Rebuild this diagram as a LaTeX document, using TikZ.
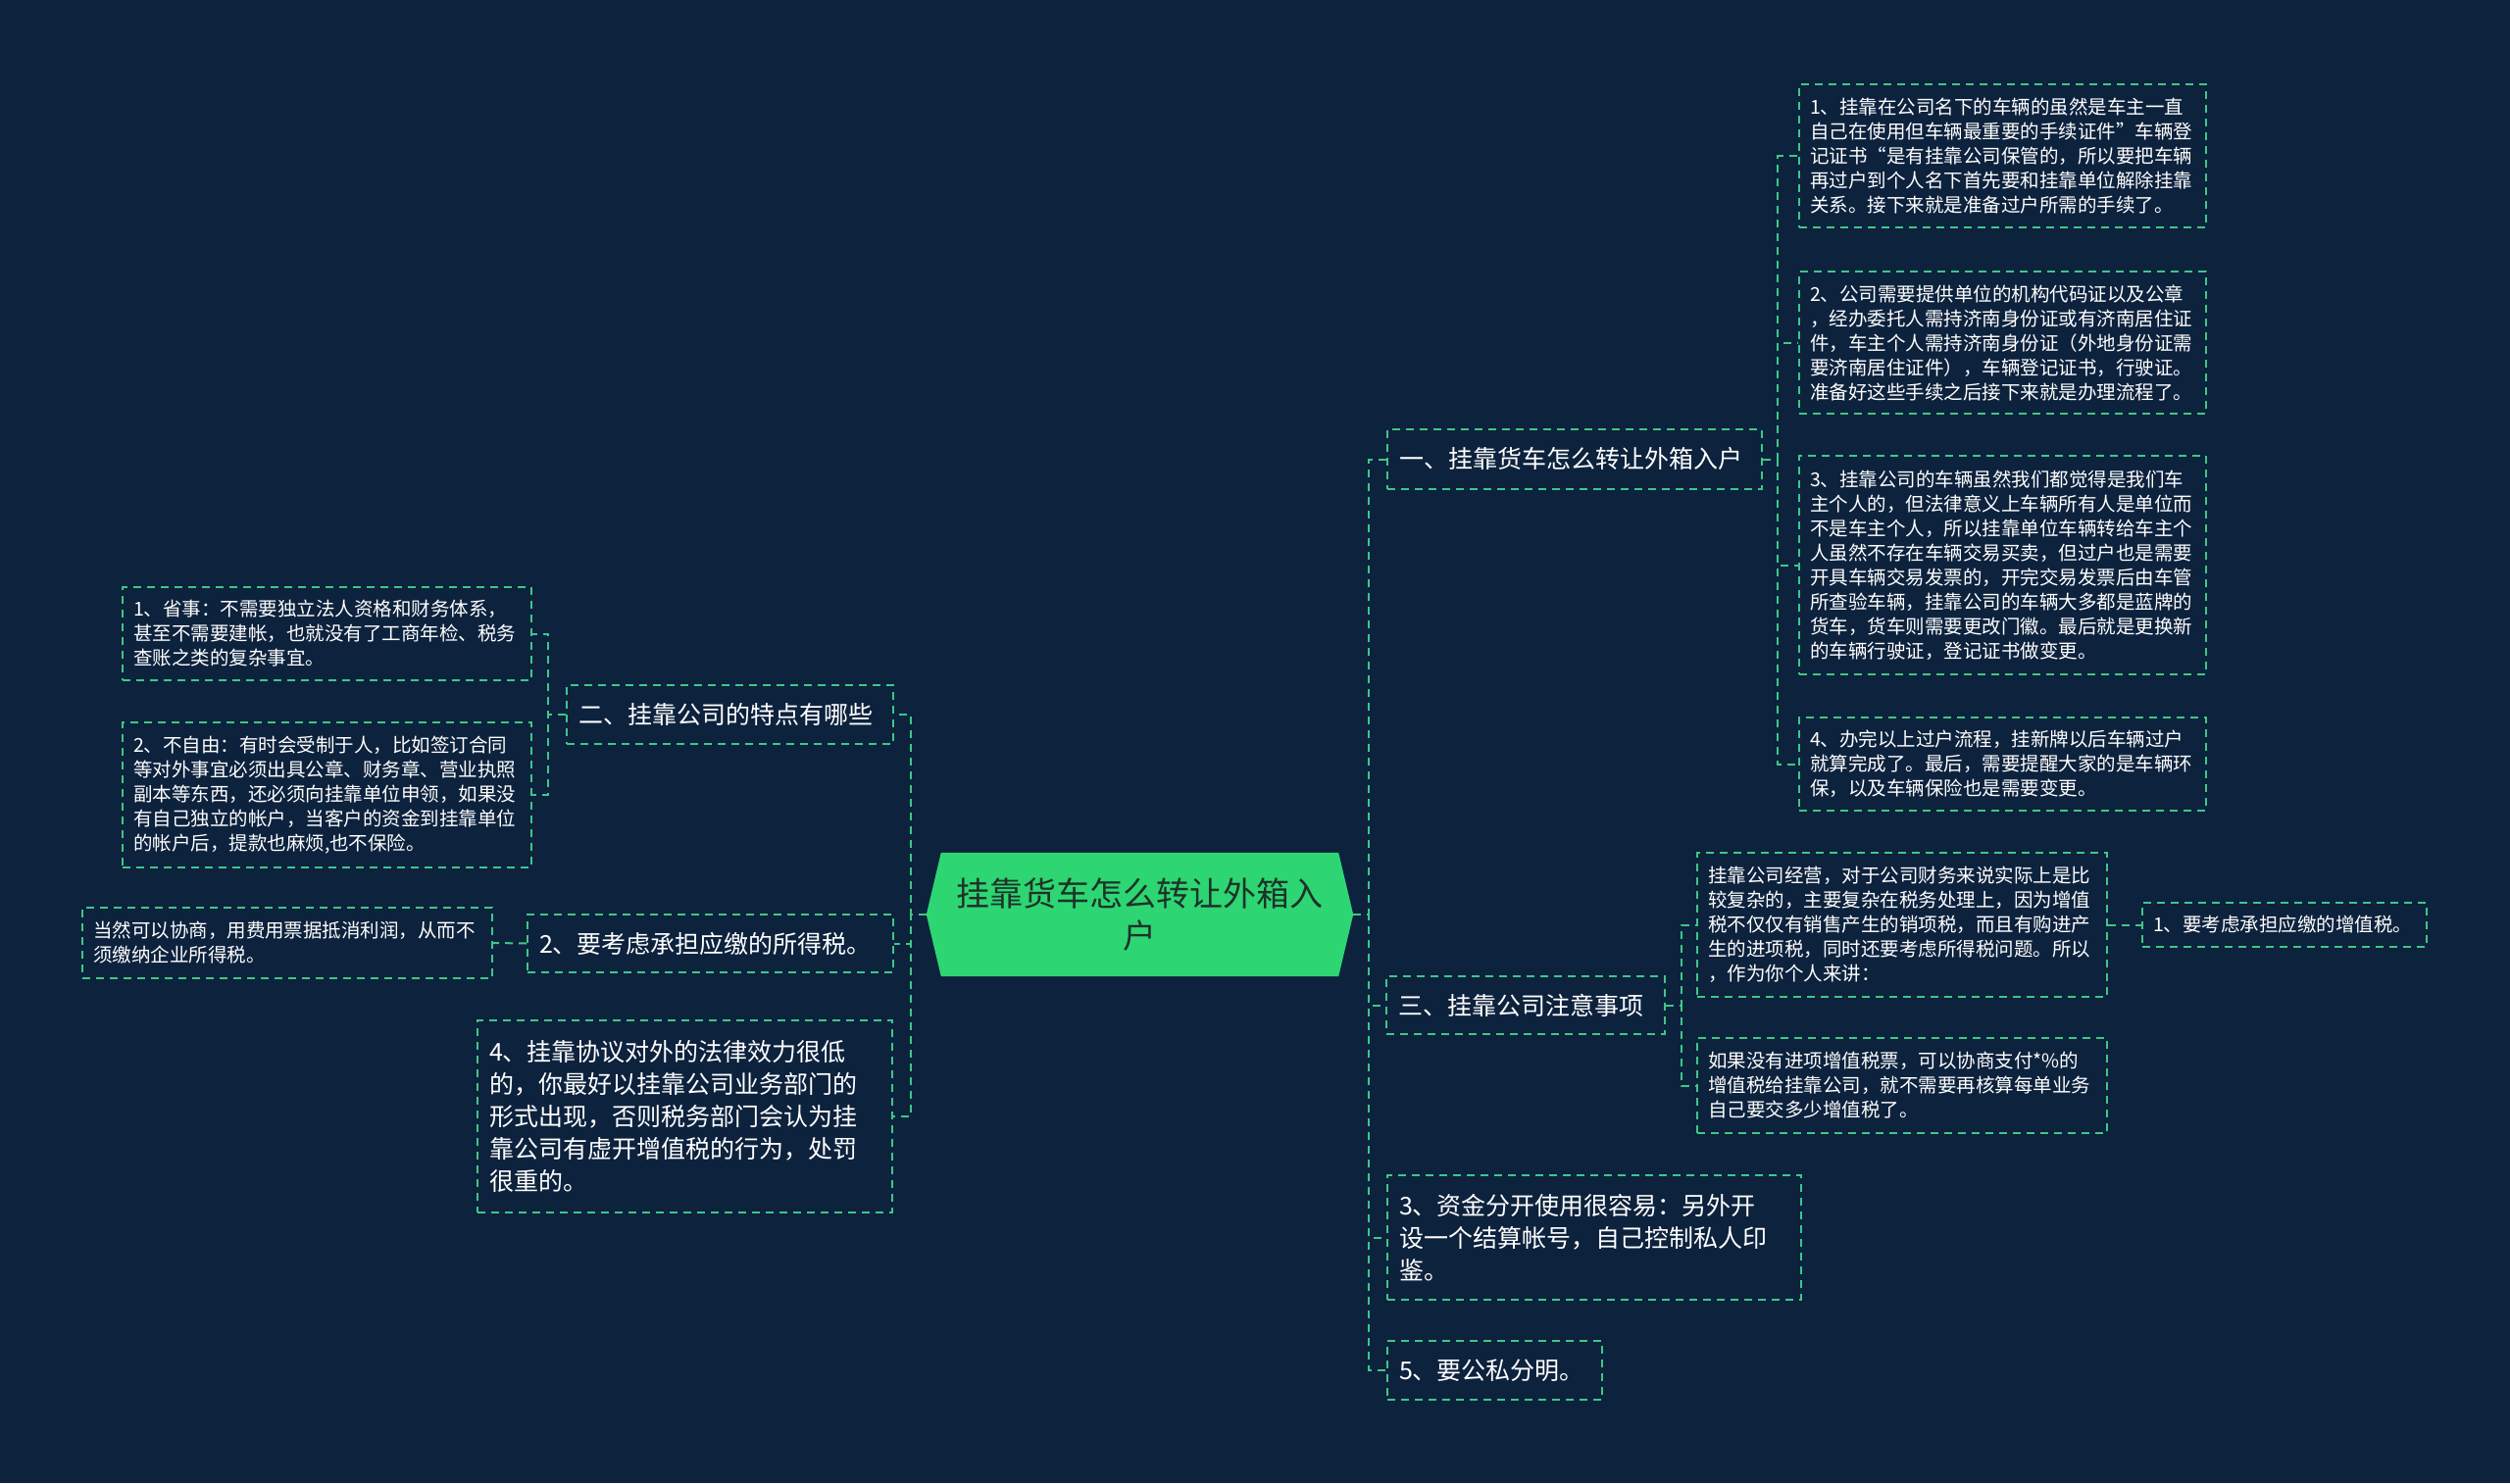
\documentclass[tikz,border=0pt]{standalone}
\usepackage{fontspec}
\newfontfamily\cjk{Noto Sans CJK SC}
\usetikzlibrary{backgrounds}
\definecolor{bgnavy}{HTML}{0D223D}
\definecolor{linegreen}{HTML}{3CC887}
\definecolor{rootgreen}{HTML}{2ED573}
\definecolor{roottext}{HTML}{1C3328}
\begin{document}
\begin{tikzpicture}[x=1pt,y=-1pt,
	box/.style={draw=linegreen,line width=2pt,dash pattern=on 8pt off 6pt,text=white,align=left,inner ysep=0pt,anchor=center},
	small/.style={box,inner xsep=11pt,font=\cjk\fontsize{19.5}{25}\selectfont},
	big/.style={box,inner xsep=12pt,font=\cjk\fontsize{25}{33}\selectfont},
	link/.style={draw=linegreen,line width=2pt,dash pattern=on 8pt off 6pt}]
	\begin{scope}[on background layer]
		\fill[bgnavy] (0,0) rectangle (2560,1513);
	\end{scope}
	\useasboundingbox (0,0) rectangle (2560,1513);
	\node[font=\cjk\fontsize{34}{43}\selectfont,text=roottext,align=center,minimum width=435pt,minimum height=126pt,inner sep=0pt] (root) at (1162.5,933) {挂靠货车怎么转让外箱入\\户};
	\begin{scope}[on background layer]
		\fill[rootgreen] (root.west) -- ([xshift=15pt]root.north west) -- ([xshift=-15pt]root.north east) -- (root.east) -- ([xshift=-15pt]root.south east) -- ([xshift=15pt]root.south west) -- cycle;
	\end{scope}
	\node[big,text width=358pt,minimum height=61pt] (r1) at (1606,468.5) {一、挂靠货车怎么转让外箱入户};
	\node[big,text width=260pt,minimum height=59pt] (r3) at (1556,1025.5) {三、挂靠公司注意事项};
	\node[big,text width=398pt,minimum height=127pt] (r3b) at (1626,1262.5) {3、资金分开使用很容易：另外开\\设一个结算帐号，自己控制私人印\\鉴。};
	\node[big,text width=195pt,minimum height=60pt] (r5) at (1524.5,1398) {5、要公私分明。};
	\node[small,text width=393pt,minimum height=146pt] (a1) at (2042.5,159) {1、挂靠在公司名下的车辆的虽然是车主一直\\自己在使用但车辆最重要的手续证件”车辆登\\记证书“是有挂靠公司保管的，所以要把车辆\\再过户到个人名下首先要和挂靠单位解除挂靠\\关系。接下来就是准备过户所需的手续了。};
	\node[small,text width=393pt,minimum height=145pt] (a2) at (2042.5,349.5) {2、公司需要提供单位的机构代码证以及公章\\，经办委托人需持济南身份证或有济南居住证\\件，车主个人需持济南身份证（外地身份证需\\要济南居住证件），车辆登记证书，行驶证。\\准备好这些手续之后接下来就是办理流程了。};
	\node[small,text width=393pt,minimum height=223pt] (a3) at (2042.5,576.5) {3、挂靠公司的车辆虽然我们都觉得是我们车\\主个人的，但法律意义上车辆所有人是单位而\\不是车主个人，所以挂靠单位车辆转给车主个\\人虽然不存在车辆交易买卖，但过户也是需要\\开具车辆交易发票的，开完交易发票后由车管\\所查验车辆，挂靠公司的车辆大多都是蓝牌的\\货车，货车则需要更改门徽。最后就是更换新\\的车辆行驶证，登记证书做变更。};
	\node[small,text width=393pt,minimum height=95pt] (a4) at (2042.5,779.5) {4、办完以上过户流程，挂新牌以后车辆过户\\就算完成了。最后，需要提醒大家的是车辆环\\保，以及车辆保险也是需要变更。};
	\node[small,text width=396pt,minimum height=147pt] (ba) at (1940,943.5) {挂靠公司经营，对于公司财务来说实际上是比\\较复杂的，主要复杂在税务处理上，因为增值\\税不仅仅有销售产生的销项税，而且有购进产\\生的进项税，同时还要考虑所得税问题。所以\\，作为你个人来讲：};
	\node[small,text width=396pt,minimum height=97pt] (bb) at (1940,1107.5) {如果没有进项增值税票，可以协商支付*\%的\\增值税给挂靠公司，就不需要再核算每单业务\\自己要交多少增值税了。};
	\node[small,text width=268pt,minimum height=45pt] (bc) at (2330,943.5) {1、要考虑承担应缴的增值税。};
	\node[big,text width=309pt,minimum height=60pt] (l2) at (744.5,729) {二、挂靠公司的特点有哪些};
	\node[big,text width=349pt,minimum height=59pt] (l2b) at (724.5,962.5) {2、要考虑承担应缴的所得税。};
	\node[big,text width=399pt,minimum height=196pt] (l4) at (698.5,1139) {4、挂靠协议对外的法律效力很低\\的，你最好以挂靠公司业务部门的\\形式出现，否则税务部门会认为挂\\靠公司有虚开增值税的行为，处罚\\很重的。};
	\node[small,text width=395pt,minimum height=95pt] (ll1) at (333.5,646.5) {1、省事：不需要独立法人资格和财务体系，\\甚至不需要建帐，也就没有了工商年检、税务\\查账之类的复杂事宜。};
	\node[small,text width=395pt,minimum height=148pt] (ll2) at (333.5,811) {2、不自由：有时会受制于人，比如签订合同\\等对外事宜必须出具公章、财务章、营业执照\\副本等东西，还必须向挂靠单位申领，如果没\\有自己独立的帐户，当客户的资金到挂靠单位\\的帐户后，提款也麻烦,也不保险。};
	\node[small,text width=396pt,minimum height=72pt] (lc) at (293,962) {当然可以协商，用费用票据抵消利润，从而不\\须缴纳企业所得税。};
	\draw[link] (root.east) -- ++(16,0) |- (r1.west);
	\draw[link] (root.east) -- ++(16,0) |- (r3.west);
	\draw[link] (root.east) -- ++(16,0) |- (r3b.west);
	\draw[link] (root.east) -- ++(16,0) |- (r5.west);
	\draw[link] (r1.east) -- ++(15,0) |- (a1.west);
	\draw[link] (r1.east) -- ++(15,0) |- (a2.west);
	\draw[link] (r1.east) -- ++(15,0) |- (a3.west);
	\draw[link] (r1.east) -- ++(15,0) |- (a4.west);
	\draw[link] (r3.east) -- ++(16,0) |- (ba.west);
	\draw[link] (r3.east) -- ++(16,0) |- (bb.west);
	\draw[link] (ba.east) -- (bc.west);
	\draw[link] (root.west) -- ++(-16,0) |- (l2.east);
	\draw[link] (root.west) -- ++(-16,0) |- (l2b.east);
	\draw[link] (root.west) -- ++(-16,0) |- (l4.east);
	\draw[link] (l2.west) -- ++(-18,0) |- (ll1.east);
	\draw[link] (l2.west) -- ++(-18,0) |- (ll2.east);
	\draw[link] (l2b.west) -- (lc.east);
\end{tikzpicture}
\end{document}
